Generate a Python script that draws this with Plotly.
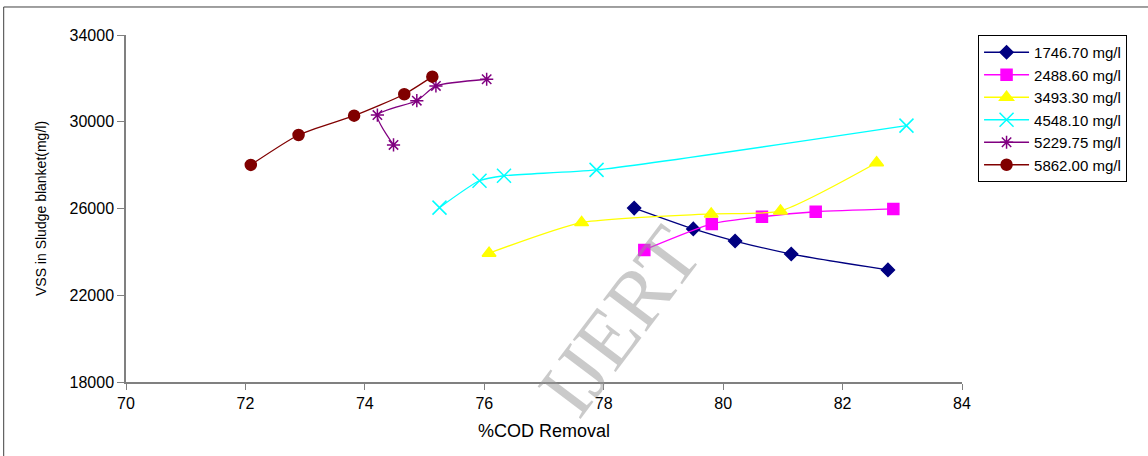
import plotly.graph_objects as go

# Data
names = ["1746.70 mg/l", "2488.60 mg/l", "3493.30 mg/l", "4548.10 mg/l", "5229.75 mg/l", "5862.00 mg/l"]

x_1746 = [78.51, 79.50, 80.20, 81.14, 82.76]
y_1746 = [26020, 25060, 24500, 23900, 23170]

x_2488 = [78.68, 79.81, 80.65, 81.55, 82.85]
y_2488 = [24090, 25290, 25620, 25850, 25980]

x_3493 = [76.08, 77.63, 79.80, 80.96, 82.57]
y_3493 = [23940, 25350, 25750, 25890, 28110]

x_4548 = [75.25, 75.92, 76.33, 77.88, 83.07]
y_4548 = [26040, 27280, 27510, 27780, 29820]

x_5229 = [74.48, 74.21, 74.87, 75.19, 76.04]
y_5229 = [28930, 30310, 30970, 31650, 31960]

x_5862 = [72.09, 72.89, 73.82, 74.66, 75.13]
y_5862 = [28010, 29390, 30280, 31270, 32080]

x_ticks = [70, 72, 74, 76, 78, 80, 82, 84]
y_ticks = [18000, 22000, 26000, 30000, 34000]

colors = ["#000080", "#FF00FF", "#FFFF00", "#00FFFF", "#800080", "#800000"]
symbols = ["diamond", "square", "triangle-up", "x-thin-open", "asterisk-open", "circle"]
sizes = [10, 11, 12, 14, 11, 11]

xs = [x_1746, x_2488, x_3493, x_4548, x_5229, x_5862]
ys = [y_1746, y_2488, y_3493, y_4548, y_5229, y_5862]

FONT = "Arial, Liberation Sans, sans-serif"

fig = go.Figure()
for name, x, y, c, s, sz in zip(names, xs, ys, colors, symbols, sizes):
    fig.add_trace(go.Scatter(
        x=x, y=y, name=name, mode="lines+markers",
        line=dict(color=c, width=1.3, shape="spline", smoothing=0.6),
        marker=dict(symbol=s, size=sz, color=c, line=dict(color=c, width=1.5)),
    ))

# watermark
fig.add_annotation(x=0.59, y=0.175, xref="paper", yref="paper", text="IJERT",
                   showarrow=False, textangle=-53, xanchor="center", yanchor="middle",
                   font=dict(family="Liberation Serif, Times New Roman, serif", size=82,
                             color="rgba(150,150,150,0.5)"))

fig.update_layout(
    width=1148, height=456,
    margin=dict(l=126, r=186, t=35, b=74),
    paper_bgcolor="white", plot_bgcolor="white",
    font=dict(family=FONT, size=16, color="black"),
    showlegend=True,
    legend=dict(x=1.0192, y=1.0, xanchor="left", yanchor="top",
                bordercolor="black", borderwidth=1, bgcolor="white",
                font=dict(family=FONT, size=15), tracegroupgap=0,
                itemwidth=45),
    shapes=[dict(type="rect", xref="paper", yref="paper",
                 x0=-0.1463, x1=1.3, y0=-0.3, y1=1.0807,
                 line=dict(color="#404040", width=1), layer="below")],
)

fig.update_xaxes(range=[70, 84], tickvals=x_ticks, ticktext=[str(t) for t in x_ticks],
                 showgrid=False, zeroline=False, showline=True, linecolor="#808080",
                 linewidth=1.5, ticks="outside", ticklen=6, tickcolor="#808080",
                 tickfont=dict(size=16), title=dict(text="%COD Removal", font=dict(size=18), standoff=13))
fig.update_yaxes(range=[18000, 34000], tickvals=y_ticks, ticktext=[str(t) for t in y_ticks],
                 showgrid=False, zeroline=False, showline=True, linecolor="#808080",
                 linewidth=1.5, ticks="outside", ticklen=7, tickcolor="#808080",
                 tickfont=dict(size=16),
                 title=dict(text="VSS in Sludge blanket(mg/l)", font=dict(size=14), standoff=20))

fig.write_html("out.html")
